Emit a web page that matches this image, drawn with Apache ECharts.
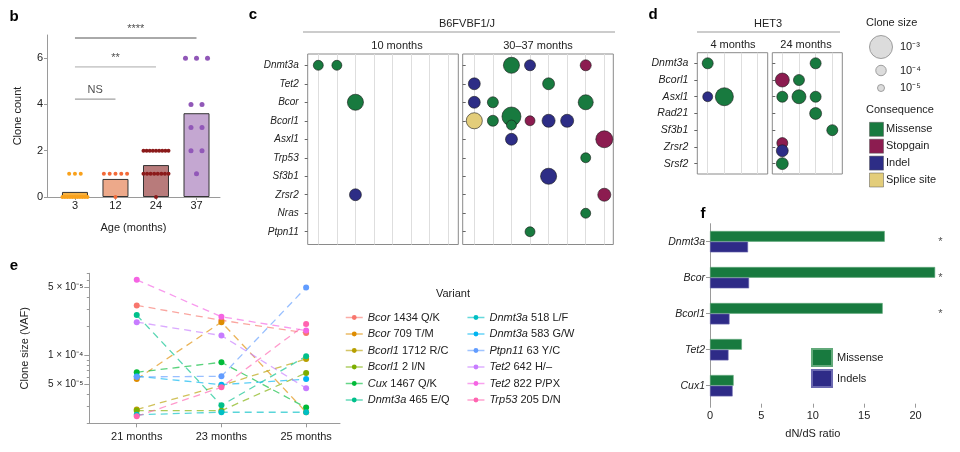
<!DOCTYPE html>
<html><head><meta charset="utf-8">
<script src="https://cdn.jsdelivr.net/npm/echarts@6/dist/echarts.min.js"></script>
<style>html,body{margin:0;padding:0;background:#fff}#c{width:960px;height:452px}</style>
</head><body><div id="c"></div>
<script>
// ---------------- DATA ----------------
// panel b
const bAges = ['3', '12', '24', '37'];
const bMeans = [0.22, 0.78, 1.38, 3.62];
const bCounts3 = [0,0,0,0,0,0,0,0,0,0,0,1,1,1];
const bCounts12 = [0,1,1,1,1,1];
const bCounts24 = [0,1,1,1,1,1,1,1,1,2,2,2,2,2,2,2,2,2];
const bCounts37 = [1,2,2,3,3,4,4,6,6,6];
const bSigPairs = [[0,1],[0,2],[0,3]];
const bSigLabels = ['NS', '**', '****'];
const bSigLevel = [4.23, 5.62, 6.87];

// panel c
const cGenes = ['Dnmt3a','Tet2','Bcor','Bcorl1','Asxl1','Trp53','Sf3b1','Zrsr2','Nras','Ptpn11'];
const c10Gene  = ['Dnmt3a','Dnmt3a','Bcor','Zrsr2'];
const c10Mouse = [0, 1, 2, 2];
const c10Type  = ['Missense','Missense','Missense','Indel'];
const c10Vaf   = [7e-5, 7e-5, 2.8e-4, 1.3e-4];
const c30Gene  = ['Dnmt3a','Dnmt3a','Dnmt3a','Tet2','Tet2','Bcor','Bcor','Bcor','Bcorl1','Bcorl1','Bcorl1','Bcorl1','Bcorl1','Bcorl1','Bcorl1','Asxl1','Asxl1','Trp53','Sf3b1','Zrsr2','Nras','Ptpn11'];
const c30Mouse = [2, 3, 6, 0, 4, 0, 1, 6, 0, 1, 2, 2, 3, 4, 5, 2, 7, 6, 4, 7, 6, 3];
const c30Type  = ['Missense','Indel','Stopgain','Indel','Missense','Indel','Missense','Missense','Splice site','Missense','Missense','Missense','Stopgain','Indel','Indel','Indel','Stopgain','Missense','Indel','Stopgain','Missense','Missense'];
const c30Vaf   = [2.8e-4, 1.1e-4, 1.1e-4, 1.3e-4, 1.3e-4, 1.3e-4, 1.1e-4, 2.3e-4, 2.8e-4, 1.1e-4, 4.8e-4, 7e-5, 7e-5, 1.6e-4, 1.6e-4, 1.3e-4, 3.3e-4, 7e-5, 2.8e-4, 1.6e-4, 7e-5, 7e-5];

// panel d
const dGenes = ['Dnmt3a','Bcorl1','Asxl1','Rad21','Sf3b1','Zrsr2','Srsf2'];
const d4Gene  = ['Dnmt3a','Asxl1','Asxl1'];
const d4Mouse = [0, 0, 1];
const d4Type  = ['Missense','Indel','Missense'];
const d4Vaf   = [1.1e-4, 7e-5, 4e-4];
const d24Gene  = ['Dnmt3a','Bcorl1','Bcorl1','Asxl1','Asxl1','Asxl1','Rad21','Sf3b1','Zrsr2','Zrsr2','Srsf2'];
const d24Mouse = [2, 0, 1, 0, 1, 2, 2, 3, 0, 0, 0];
const d24Type  = ['Missense','Stopgain','Missense','Missense','Missense','Missense','Missense','Missense','Stopgain','Indel','Missense'];
const d24Vaf   = [1.1e-4, 1.9e-4, 1.1e-4, 1.1e-4, 1.9e-4, 1.1e-4, 1.3e-4, 1.1e-4, 1.1e-4, 1.3e-4, 1.3e-4];
const cloneSizeLegend = [1e-3, 1e-4, 1e-5];
const cloneSizeLabels = ['10⁻³', '10⁻⁴', '10⁻⁵'];
const consequences = ['Missense','Stopgain','Indel','Splice site'];

// panel e
const eMonths = ['21 months', '23 months', '25 months'];
const eNames = ['Bcor 1434 Q/K','Bcor 709 T/M','Bcorl1 1712 R/C','Bcorl1 2 I/N','Cux 1467 Q/K','Dnmt3a 465 E/Q','Dnmt3a 518 L/F','Dnmt3a 583 G/W','Ptpn11 63 Y/C','Tet2 642 H/–','Tet2 822 P/PX','Trp53 205 D/N'];
const e21 = [3.27e-4, 5.7e-5, 2.77e-5, 2.7e-5, 6.7e-5, 2.6e-4, 2.45e-5, 6.1e-5, 6.0e-5, 2.2e-4, 6.0e-4, 2.36e-5];
const e23 = [2.3e-4, 2.2e-4, 4.9e-5, 2.7e-5, 8.5e-5, 3.06e-5, 2.6e-5, 5.0e-5, 6.1e-5, 1.6e-4, 2.5e-4, 4.7e-5];
const e25 = [1.7e-4, 2.6e-5, 9.2e-5, 6.6e-5, 2.9e-5, 9.8e-5, 2.6e-5, 5.7e-5, 5.0e-4, 4.6e-5, 1.8e-4, 2.1e-4];
const eTickVals = [5e-4, 1e-4, 5e-5];
const eTickText = ['5 × 10⁻⁵', '1 × 10⁻⁴', '5 × 10⁻⁵'];
const eMinorVals = [2e-5, 3e-5, 4e-5, 6e-5, 7e-5, 8e-5, 9e-5, 2e-4, 3e-4, 4e-4, 6e-4, 7e-4];

// panel f
const fGenes = ['Dnmt3a','Bcor','Bcorl1','Tet2','Cux1'];
const fMissense = [17.0, 21.9, 16.8, 3.1, 2.3];
const fIndels = [3.7, 3.8, 1.9, 1.8, 2.2];
const fSignif = ['*', '*', '*', '', ''];

// ---------------- STYLE ----------------
const FONT = '"Liberation Sans", Arial, Helvetica, sans-serif';
const TXT = '#222';
const AX = '#9a9a9a';
const typeColor = {'Missense':'#187a3f','Stopgain':'#8c1c50','Indel':'#2d2d86','Splice site':'#e3cd7a'};
const bBarColors = ['#f8b140','#eda98a','#b87b7b','#c4a7d1'];
const bDotColors = ['#f9a11b','#f26a38','#8b1a1a','#9158b8'];
const bDotSize = [4, 4, 4, 5];
const bMaxSpacing = [5.8, 5.8, 5.8, 11];
const bSigColors = ['#888','#aaa','#555'];
const ePalette = ['#F8766D','#DE8C00','#B79F00','#7CAE00','#00BA38','#00C08B','#00BFC4','#00B4F0','#619CFF','#C77CFF','#F564E3','#FF64B0'];

function sizeOf(v){ const l = Math.log10(v); return l <= -4 ? 10.5 + (l + 4) * 3.5 : 10.5 + (l + 4) * 12.5; }

function dotData(genesList, gene, mouse, type, vaf){
  const groups = {};
  gene.forEach((g,i)=>{ const k = g + '|' + mouse[i]; (groups[k] = groups[k] || []).push(i); });
  return gene.map((g,i)=>{
    const grp = groups[g + '|' + mouse[i]]; const n = grp.length; const pos = grp.indexOf(i);
    const nud = (pos - (n - 1) / 2) * 0.46;
    return {value:[mouse[i], genesList.indexOf(g) + nud, vaf[i]], itemStyle:{color:typeColor[type[i]]}};
  });
}

// panel b dot layout (px per unit on x axis ~40.5)
const bPxPerUnit = 40.5;
function bDots(counts, g){
  const rows = {};
  counts.forEach(v => { rows[v] = (rows[v] || 0) + 1; });
  const out = [];
  Object.keys(rows).forEach(k => {
    const n = rows[k];
    const sp = n > 1 ? Math.min(bMaxSpacing[g], 25 / (n - 1)) : 0;
    for (let j = 0; j < n; j++) {
      out.push([g + (j - (n - 1) / 2) * sp / bPxPerUnit, +k]);
    }
  });
  return out;
}
const bAllCounts = [bCounts3, bCounts12, bCounts24, bCounts37];

const range = n => Array.from({length:n}, (_, i) => i);
const grid = (l,t,w,h,show) => ({left:l, top:t, width:w, height:h, show:!!show, borderColor:'#8a8a8a', borderWidth:1, backgroundColor:'transparent'});

const stripX = (gi, min, max, n) => ({gridIndex:gi, type:'value', min:min, max:max,
  axisLine:{show:false, onZero:false}, axisLabel:{show:false},
  axisTick:{show:false, customValues:range(n)},
  splitLine:{show:true, lineStyle:{color:'#dedede', width:1}}});
const stripY = (gi, min, max, genes, withLabels, fs) => ({gridIndex:gi, type:'value', inverse:true, min:min, max:max,
  axisLine:{show:false, onZero:false}, splitLine:{show:false},
  axisTick:{show:true, inside:!withLabels, length:3, customValues:range(genes.length), lineStyle:{color:'#666'}},
  axisLabel:{show:withLabels, customValues:range(genes.length), formatter:v => genes[Math.round(v)] || '',
    fontStyle:'italic', fontSize:fs, color:TXT, margin:9, fontFamily:FONT}});

const stripSeries = (xi, data) => ({type:'scatter', xAxisIndex:xi, yAxisIndex:xi, data:data,
  symbolSize:(val) => sizeOf(val[2]),
  itemStyle:{borderColor:'#1a1a1a', borderWidth:0.6, opacity:1}, z:5, silent:true});

const eLog = v => Math.log10(v);
const eRich = {i:{fontStyle:'italic', fontSize:11, color:TXT, fontFamily:FONT}, n:{fontSize:11, color:TXT, fontFamily:FONT}};
const eFmt = name => { const i = name.indexOf(' '); return '{i|' + name.slice(0, i) + '}{n|' + name.slice(i) + '}'; };
const eLegend = (names, left) => ({data:names, orient:'vertical', left:left, top:311, itemWidth:17, itemHeight:6,
  itemGap:3.5, selectedMode:false, formatter:eFmt, padding:0,
  textStyle:{fontSize:11, lineHeight:13, color:TXT, fontFamily:FONT, rich:eRich},
  lineStyle:{type:'solid', opacity:0.6, width:1.5}});

// ---------------- SERIES ----------------
const series = [];
// b bars
series.push({type:'bar', xAxisIndex:0, yAxisIndex:0, barWidth:26,
  data: bMeans.map((m,i) => ({value:[i, m], itemStyle:{color:bBarColors[i]}})),
  itemStyle:{borderColor:'#333', borderWidth:1}, z:2, silent:true});
// b dots
bAllCounts.forEach((c, g) => {
  series.push({type:'scatter', xAxisIndex:0, yAxisIndex:0, data:bDots(c, g), symbolSize:bDotSize[g],
    itemStyle:{color:bDotColors[g], opacity:1}, z:4, silent:true});
});
// b significance
bSigPairs.forEach((p, i) => {
  series.push({type:'line', xAxisIndex:0, yAxisIndex:0, data:[[p[0], bSigLevel[i]], [p[1], bSigLevel[i]]],
    symbol:'none', lineStyle:{color:bSigColors[i], width:1}, silent:true, z:3});
  series.push({type:'scatter', xAxisIndex:0, yAxisIndex:0, data:[[(p[0] + p[1]) / 2, bSigLevel[i]]],
    symbolSize:1, itemStyle:{color:'transparent'}, silent:true,
    label:{show:true, position:'top', distance:3, formatter:bSigLabels[i], fontSize:11, color:TXT, fontFamily:FONT}});
});
// c / d strips
series.push(stripSeries(1, dotData(cGenes, c10Gene, c10Mouse, c10Type, c10Vaf)));
series.push(stripSeries(2, dotData(cGenes, c30Gene, c30Mouse, c30Type, c30Vaf)));
series.push(stripSeries(3, dotData(dGenes, d4Gene, d4Mouse, d4Type, d4Vaf)));
series.push(stripSeries(4, dotData(dGenes, d24Gene, d24Mouse, d24Type, d24Vaf)));
// e lines
eNames.forEach((n, i) => {
  series.push({name:n, type:'line', xAxisIndex:5, yAxisIndex:5,
    data:[e21[i], e23[i], e25[i]].map((v, k) => [k, eLog(v)]),
    symbol:'circle', symbolSize:6, itemStyle:{color:ePalette[i]},
    lineStyle:{color:ePalette[i], type:[7,5], width:1.3, opacity:0.65}, z:3, silent:true});
});
// f bars
series.push({name:'Missense', type:'bar', xAxisIndex:6, yAxisIndex:6, data:fMissense, barWidth:10.7, barGap:'0%', clip:false,
  itemStyle:{color:'#187a3f', borderColor:'#62a97a', borderWidth:0.6}, silent:true});
series.push({name:'Indels', type:'bar', xAxisIndex:6, yAxisIndex:6, data:fIndels, barWidth:10.7, barGap:'0%', clip:false,
  itemStyle:{color:'#2e2b87', borderColor:'#6b69b0', borderWidth:0.6}, silent:true});
series.push({type:'scatter', xAxisIndex:6, yAxisIndex:6, clip:false, symbolSize:1, itemStyle:{color:'transparent'}, silent:true,
  data: fSignif.map((s, i) => ({value:[22.4, i], label:{show:!!s, formatter:s}})),
  label:{position:'inside', fontSize:11, color:TXT, fontFamily:FONT}});

// ---------------- GRAPHIC ----------------
const g = [];
const txt = (x, y, text, o) => g.push(Object.assign({type:'text', x:x, y:y, silent:true,
  style:Object.assign({text:text, fill:TXT, font:'11px ' + FONT, align:'center', verticalAlign:'middle'}, (o || {}))}));
['b','c','d','e','f'].forEach((l, i) => {
  const pos = [[14,17],[253,15],[653,15],[14,266],[703,214]][i];
  txt(pos[0], pos[1], l, {font:'bold 15px ' + FONT, fill:'#000'});
});
txt(467, 24, 'B6FVBF1/J');
g.push({type:'line', shape:{x1:303, y1:32, x2:615, y2:32}, style:{stroke:'#999', lineWidth:1}, silent:true});
txt(397, 46, '10 months');
txt(538, 46, '30–37 months');
txt(768, 24, 'HET3');
g.push({type:'line', shape:{x1:697, y1:32, x2:840, y2:32}, style:{stroke:'#999', lineWidth:1}, silent:true});
txt(733, 45, '4 months');
txt(806, 45, '24 months');
txt(866, 23, 'Clone size', {align:'left'});
const csY = [47, 70.5, 88];
cloneSizeLegend.forEach((v, i) => {
  g.push({type:'circle', shape:{cx:881, cy:csY[i], r:sizeOf(v) / 2}, style:{fill:'#dcdcdc', stroke:'#8a8a8a', lineWidth:0.8}, silent:true});
  txt(900, csY[i], cloneSizeLabels[i], {align:'left'});
});
txt(866, 110, 'Consequence', {align:'left'});
consequences.forEach((c, i) => {
  const cy = 129.3 + i * 16.9;
  g.push({type:'rect', shape:{x:869.5, y:cy - 7, width:14, height:14}, style:{fill:typeColor[c], stroke:'#555', lineWidth:0.5}, silent:true});
  txt(886, cy, c, {align:'left'});
});
txt(453, 294, 'Variant');

// ---------------- OPTION ----------------
const eMin = eLog(2e-5), eMax = eLog(7e-4);
const option = {
  animation:false,
  textStyle:{fontFamily:FONT},
  grid:[
    grid(47, 35, 173, 162),
    grid(307.7, 54, 150.6, 190.5, true),
    grid(462.7, 54, 150.6, 190.5, true),
    grid(697.3, 52.7, 70.4, 121.3, true),
    grid(772.3, 52.7, 70, 121.3, true),
    grid(89.3, 273.3, 250.7, 150),
    grid(710, 223.7, 205.6, 180),
    grid(89.3, 273.3, 250.7, 150)
  ],
  xAxis:[
    {gridIndex:0, type:'value', min:-0.69, max:3.58,
      axisLine:{onZero:false, lineStyle:{color:AX}}, splitLine:{show:false},
      axisTick:{customValues:[0,1,2,3], length:3, lineStyle:{color:AX}},
      axisLabel:{customValues:[0,1,2,3], formatter:v => bAges[Math.round(v)], fontSize:11, color:TXT, margin:3},
      name:'Age (months)', nameLocation:'middle', nameGap:25, nameTextStyle:{fontSize:11, color:TXT}},
    stripX(1, -0.571, 7.54, 8),
    stripX(2, -0.625, 7.485, 8),
    stripX(3, -0.624, 3.6, 4),
    stripX(4, -0.6, 3.6, 4),
    {gridIndex:5, type:'value', min:-0.56, max:2.40,
      axisLine:{onZero:false, lineStyle:{color:AX}}, splitLine:{show:false},
      axisTick:{customValues:[0,1,2], length:4, lineStyle:{color:AX}},
      axisLabel:{customValues:[0,1,2], formatter:v => eMonths[Math.round(v)], fontSize:11, color:TXT, margin:8}},
    {gridIndex:6, type:'value', min:0, max:20, interval:5,
      axisLine:{onZero:false, lineStyle:{color:AX}}, splitLine:{show:false},
      axisTick:{show:true, length:4, lineStyle:{color:AX}},
      axisLabel:{fontSize:11, color:TXT, margin:7},
      name:'dN/dS ratio', nameLocation:'middle', nameGap:25, nameTextStyle:{fontSize:11, color:TXT}},
    {gridIndex:7, type:'value', min:-0.56, max:2.40, show:false}
  ],
  yAxis:[
    {gridIndex:0, type:'value', min:0, max:7, position:'left',
      axisLine:{show:true, onZero:false, lineStyle:{color:AX}}, splitLine:{show:false},
      axisTick:{show:true, customValues:[0,2,4,6], length:3, lineStyle:{color:AX}},
      axisLabel:{customValues:[0,2,4,6], fontSize:11, color:TXT, margin:4},
      name:'Clone count', nameLocation:'middle', nameGap:24, nameRotate:90, nameTextStyle:{fontSize:11, color:TXT}},
    stripY(1, -0.61, 9.69, cGenes, true, 10),
    stripY(2, -0.61, 9.69, cGenes, false, 10),
    stripY(3, -0.634, 6.62, dGenes, true, 10.5),
    stripY(4, -0.634, 6.62, dGenes, false, 10.5),
    {gridIndex:5, type:'value', min:eMin, max:eMax, position:'left',
      axisLine:{show:true, onZero:false, lineStyle:{color:AX}}, splitLine:{show:false},
      axisTick:{show:true, customValues:eTickVals.map(eLog), length:5, lineStyle:{color:AX}},
      axisLabel:{customValues:eTickVals.map(eLog), fontSize:10, color:TXT, margin:6,
        formatter:v => { const i = eTickVals.findIndex(t => Math.abs(eLog(t) - v) < 1e-6); return i >= 0 ? eTickText[i] : ''; }},
      name:'Clone size (VAF)', nameLocation:'middle', nameGap:59, nameRotate:90, nameTextStyle:{fontSize:11, color:TXT}},
    {gridIndex:6, type:'category', inverse:true, data:fGenes, position:'left',
      axisLine:{onZero:false, lineStyle:{color:AX}}, splitLine:{show:false},
      axisTick:{show:true, alignWithLabel:true, length:4, lineStyle:{color:AX}},
      axisLabel:{fontStyle:'italic', fontSize:10.5, color:TXT, margin:5}},
    {gridIndex:7, type:'value', min:eMin, max:eMax, position:'left',
      axisLine:{show:false, onZero:false}, splitLine:{show:false}, axisLabel:{show:false},
      axisTick:{show:true, customValues:eMinorVals.map(eLog), length:2.5, lineStyle:{color:AX}}}
  ],
  legend:[
    eLegend(eNames.slice(0, 6), 345),
    eLegend(eNames.slice(6), 466.7),
    {data:['Missense','Indels'], orient:'vertical', left:811, top:348, itemWidth:20, itemHeight:17, itemGap:2,
      icon:'rect', selectedMode:false, padding:0, textStyle:{fontSize:11, color:TXT, fontFamily:FONT}}
  ],
  series:series,
  graphic:g
};
const chart = echarts.init(document.getElementById('c'), null, {renderer:'canvas'});
chart.setOption(option);
</script>
</body></html>
